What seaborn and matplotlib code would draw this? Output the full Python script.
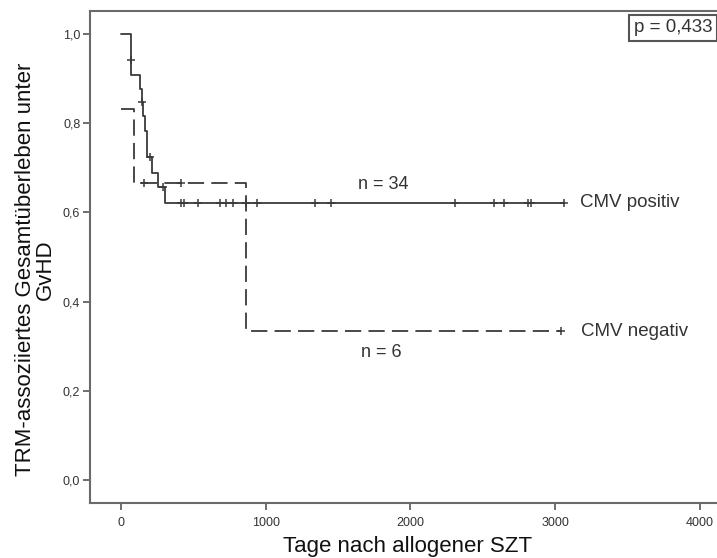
import numpy as np
import pandas as pd
import matplotlib
matplotlib.use("Agg")
import matplotlib.pyplot as plt
import seaborn as sns

# CMV positiv (n = 34): step times (days) and survival after each step
pos_times = [0, 65, 70, 126, 140, 150, 165, 175, 180, 210, 255, 300, 3065]
pos_surv = [1.0, 0.941, 0.908, 0.878, 0.848, 0.816, 0.782, 0.750, 0.725, 0.688, 0.658, 0.622, 0.622]
pos_censor = [68, 145, 196, 290, 413, 436, 529, 680, 727, 774, 860, 937,
              1340, 1449, 2305, 2575, 2650, 2813, 2837, 3065]

# CMV negativ (n = 6)
neg_times = [0, 86, 860, 3042]
neg_surv = [0.833, 0.667, 0.333, 0.333]
neg_censor = [156, 413, 3042]

y_ticks = [0.0, 0.2, 0.4, 0.6, 0.8, 1.0]
y_ticklabels = ["0,0", "0,2", "0,4", "0,6", "0,8", "1,0"]
x_ticks = [0, 1000, 2000, 3000, 4000]

sns.set_style("white")
plt.rcParams["font.family"] = ["Liberation Sans", "DejaVu Sans"]

fig = plt.figure(figsize=(7.17, 5.58), dpi=100)
ax = fig.add_axes([90/717, 1 - 503/558, 1 - 90/717 + 0.01, (503 - 11)/558])

line_col = "#3a3a3a"


def step_value(times, surv, t):
    idx = np.searchsorted(times, t, side="right") - 1
    return np.asarray(surv)[idx]


pos_df = pd.DataFrame({"t": pos_times, "s": pos_surv})
neg_df = pd.DataFrame({"t": neg_times, "s": neg_surv})

sns.lineplot(data=pos_df, x="t", y="s", ax=ax, drawstyle="steps-post",
             estimator=None, sort=False, color=line_col, linewidth=1.3)
sns.lineplot(data=neg_df, x="t", y="s", ax=ax, drawstyle="steps-post",
             estimator=None, sort=False, color=line_col, linewidth=1.3,
             dashes=False, linestyle=(0, (9, 4)))

pc = pd.DataFrame({"t": pos_censor, "s": step_value(pos_times, pos_surv, pos_censor)})
nc = pd.DataFrame({"t": neg_censor, "s": step_value(neg_times, neg_surv, neg_censor)})
sns.scatterplot(data=pc, x="t", y="s", ax=ax, marker="+", s=32, color=line_col,
                linewidth=1.1, zorder=5)
sns.scatterplot(data=nc, x="t", y="s", ax=ax, marker="+", s=32, color=line_col,
                linewidth=1.1, zorder=5)

ax.set_xlim(-217, 4170)
ax.set_ylim(-0.052, 1.052)
ax.set_xticks(x_ticks)
ax.set_xticklabels([str(v) for v in x_ticks])
ax.set_yticks(y_ticks)
ax.set_yticklabels(y_ticklabels)

for lab in ax.get_xticklabels() + ax.get_yticklabels():
    lab.set_fontfamily(["Liberation Sans Narrow", "Liberation Sans"])
    lab.set_fontsize(9)
    lab.set_color("#333333")

ax.tick_params(axis="both", which="both", length=5, width=1.2, color="#555555",
               direction="out", bottom=True, left=True)
ax.tick_params(axis="x", pad=5)
ax.tick_params(axis="y", pad=2)
for side, sp in ax.spines.items():
    sp.set_color("#6a6a6a")
    sp.set_linewidth(1.5)
ax.spines["right"].set_visible(False)

ax.set_xlabel("Tage nach allogener SZT", fontsize=16, color="#111111", labelpad=5)
ax.set_ylabel("TRM-assoziiertes Gesamtüberleben unter\nGvHD", fontsize=16,
              color="#111111", linespacing=0.9)
ax.yaxis.set_label_coords(-0.054, 0.474)

txt_kw = dict(fontsize=13, color="#333333")
ax.text(1810, 0.643, "n = 34", ha="center", va="bottom", **txt_kw)
ax.text(3175, 0.622, "CMV positiv", ha="left", va="center", fontsize=13.5, color="#333333")
ax.text(3183, 0.333, "CMV negativ", ha="left", va="center", fontsize=13.5, color="#333333")
ax.text(1800, 0.285, "n = 6", ha="center", va="center", **txt_kw)

fig.text(634/717, 1 - 28/558, "p = 0,433", ha="left", va="center",
         fontsize=13.5, color="#333333",
         bbox=dict(boxstyle="square,pad=0.25", facecolor="white", edgecolor="#555555",
                   linewidth=1.5))

fig.savefig("out.png", dpi=100)
